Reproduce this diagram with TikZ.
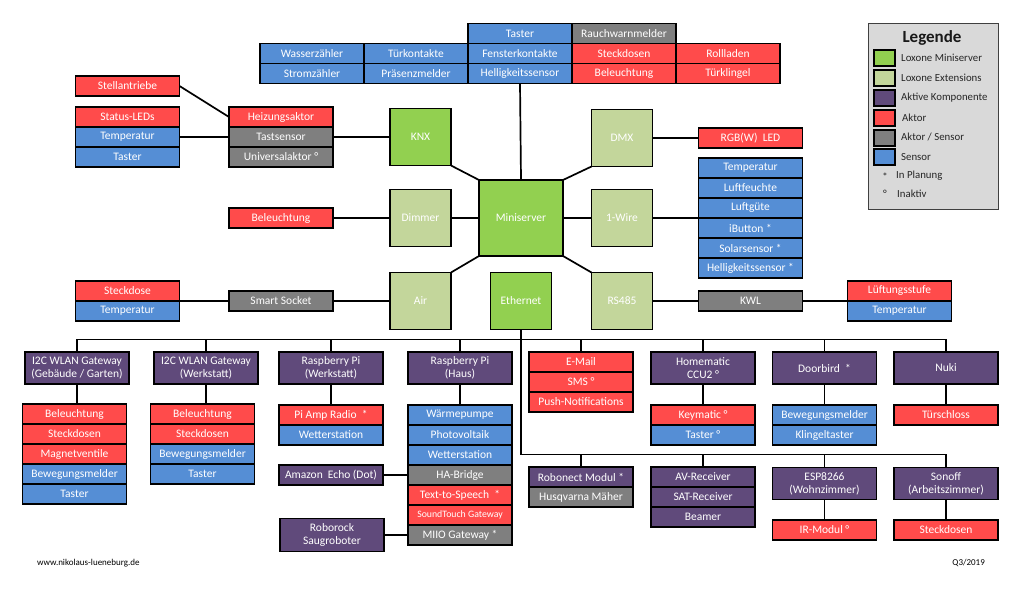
\documentclass[tikz,border=0pt]{standalone}
\usepackage{fontspec}
\setmainfont{Carlito}
\usetikzlibrary{positioning, calc}

\definecolor{minigreen}{HTML}{92D050}
\definecolor{extgreen}{HTML}{C3D69B}
\definecolor{aktivpurple}{HTML}{604A7B}
\definecolor{aktorred}{HTML}{FF4B4B}
\definecolor{aksengray}{HTML}{7F7F7F}
\definecolor{sensorblue}{HTML}{558ED5}
\definecolor{legendgray}{HTML}{D9D9D9}

\begin{document}
\begin{tikzpicture}[
  x=1pt, y=-1pt,
  box/.style    = {draw=black, line width=1.4pt, outer sep=0pt, inner sep=0pt,
                   minimum width=104pt, minimum height=20pt, text=white,
                   font=\fontsize{11.5}{13}\selectfont},
  sensor/.style = {box, fill=sensorblue},
  aktor/.style  = {box, fill=aktorred},
  aksen/.style  = {box, fill=aksengray},
  aktiv/.style  = {box, fill=aktivpurple, align=center, minimum height=32pt},
  ext/.style    = {box, fill=extgreen, minimum width=61pt, minimum height=57pt},
  mini/.style   = {box, fill=minigreen, minimum width=84pt, minimum height=76pt},
  link/.style   = {line width=1.7pt},
  swatch/.style = {draw=black, line width=1.7pt, minimum width=21pt, minimum height=16pt, inner sep=0pt},
  legtext/.style = {anchor=west, inner sep=0pt, text=black!85, font=\fontsize{10.8}{12}\selectfont},
]
  \useasboundingbox (0,0) rectangle (1024,593);
  \fill[white] (0,0) rectangle (1024,593);

%--- Miniserver und Extensions ---
  \node[mini] (mini)   at (521,218)   {Miniserver};
  \node[mini, minimum width=61pt, minimum height=57pt] (knx) at (420.5,137) {KNX};
  \node[ext]  (dmx)    at (622,138)   {DMX};
  \node[ext]  (dimmer) at (420.5,218) {Dimmer};
  \node[ext]  (wire)   at (622,218)   {1-Wire};
  \node[ext]  (air)    at (420.5,301) {Air};
  \node[mini, minimum width=61pt, minimum height=57pt] (eth) at (521,301) {Ethernet};
  \node[ext]  (rs)     at (622,301)   {RS485};

  \draw[link] (knx.south east) -- (mini.north west);
  \draw[link] (dmx.south west) -- (mini.north east);
  \draw[link] (air.north east) -- (mini.south west);
  \draw[link] (rs.north west)  -- (mini.south east);
  \draw[link] (dimmer) -- (mini);
  \draw[link] (wire)   -- (mini);

%--- Loxone Tree / Sensoren oben ---
  \node[sensor] (fenster) at (520,53.5) {Fensterkontakte};
  \node[sensor, above=0pt of fenster] (taster)  {Taster};
  \node[aksen,  right=0pt of taster]  (rauch)   {Rauchwarnmelder};
  \node[sensor, below=0pt of fenster] (hellig)  {Helligkeitssensor};
  \node[sensor, left=0pt of fenster]  (tuerk)   {Türkontakte};
  \node[sensor, left=0pt of tuerk]    (wasser)  {Wasserzähler};
  \node[sensor, below=0pt of tuerk]   (praes)   {Präsenzmelder};
  \node[sensor, below=0pt of wasser]  (strom)   {Stromzähler};
  \node[aktor,  right=0pt of fenster] (steck)   {Steckdosen};
  \node[aktor,  right=0pt of steck]   (roll)    {Rollladen};
  \node[aktor,  below=0pt of steck]   (bel)     {Beleuchtung};
  \node[aktor,  below=0pt of roll]    (klingel) {Türklingel};

  \draw[link] (hellig.south) -- (mini.north);

%--- KNX ---
  \node[aksen] (tast) at (281,137) {Tastsensor};
  \node[aktor, above=0pt of tast] (heiz)  {Heizungsaktor};
  \node[aksen, below=0pt of tast] (univ)  {Universalaktor °};
  \node[sensor] (knxtemp) at (127.5,137) {Temperatur};
  \node[aktor,  above=0pt of knxtemp] (status)    {Status-LEDs};
  \node[sensor, below=0pt of knxtemp] (knxtaster) {Taster};
  \node[aktor] (stell) at (127.5,86) {Stellantriebe};

  \draw[link] (stell.east) -- (heiz.west);
  \draw[link] (knxtemp) -- (tast);
  \draw[link] (tast) -- (knx);

%--- Dimmer ---
  \node[aktor] (dimbel) at (281,218) {Beleuchtung};
  \draw[link] (dimbel) -- (dimmer);

%--- Air ---
  \node[aksen] (socket) at (281,301) {Smart Socket};
  \node[aktor]  (sockdose) at (127.5,291) {Steckdose};
  \node[sensor, below=0pt of sockdose] (socktemp) {Temperatur};
  \draw[link] (sockdose.south east) -- (socket.west);
  \draw[link] (socket) -- (air);

%--- DMX / 1-Wire / RS485 ---
  \node[aktor] (rgbw) at (750.5,138) {RGB(W)\ \ LED};
  \draw[link] (dmx) -- (rgbw);

  \node[sensor] (luftguete) at (750.5,208) {Luftgüte};
  \node[sensor, above=0pt of luftguete] (luftfeu)   {Luftfeuchte};
  \node[sensor, above=0pt of luftfeu]   (wiretemp)  {Temperatur};
  \node[sensor, below=0pt of luftguete] (ibutton)   {iButton *};
  \node[sensor, below=0pt of ibutton]   (solar)     {Solarsensor *};
  \node[sensor, below=0pt of solar]     (wirehell)  {Helligkeitssensor *};
  \draw[link] (wire) -- (luftguete.south west);

  \node[aksen] (kwl) at (750.5,301) {KWL};
  \node[aktor] (lueft) at (899.5,291) {Lüftungsstufe};
  \node[sensor, below=0pt of lueft] (kwltemp) {Temperatur};
  \draw[link] (rs) -- (kwl);
  \draw[link] (kwl) -- (lueft.south west);

%--- Ethernet, obere Reihe ---
  \node[aktiv] (gwa)  at (77,368)    {I2C WLAN Gateway\\(Gebäude / Garten)};
  \node[aktiv] (gwb)  at (206,368)   {I2C WLAN Gateway\\(Werkstatt)};
  \node[aktiv] (rpiw) at (331,368)   {Raspberry Pi\\(Werkstatt)};
  \node[aktiv] (rpih) at (460,368)   {Raspberry Pi\\(Haus)};
  \node[aktor] (mail) at (581,362)   {E-Mail};
  \node[aktor, below=0pt of mail] (sms)  {SMS °};
  \node[aktor, below=0pt of sms]  (push) {Push-Notifications};
  \node[aktiv] (hm)   at (703,368)   {Homematic\\CCU2 °};
  \node[aktiv] (door) at (824.5,368) {Doorbird\ \ *};
  \node[aktiv] (nuki) at (946,368)   {Nuki};

  \coordinate (ebus)    at ($(eth.south)+(0,10)$);
  \coordinate (ebustwo) at ($(eth.south)+(0,125)$);
  \draw[link] (gwa.north) |- (ebus) -| (nuki.north);
  \draw[link] (eth.south) -- (ebustwo);
  \draw[link] (gwb.north)  -- (gwb.north |- ebus);
  \draw[link] (rpiw.north) -- (rpiw.north |- ebus);
  \draw[link] (rpih.north) -- (rpih.north |- ebus);
  \draw[link] (mail.north) -- (mail.north |- ebus);
  \draw[link] (hm.north)   -- (hm.north |- ebus);
  \draw[link] (door.north) -- (door.north |- ebus);

  % I2C WLAN Gateway (Gebaeude / Garten)
  \node[aktor] (gwabel) at (74.5,414) {Beleuchtung};
  \node[aktor,  below=0pt of gwabel]   (gwasteck) {Steckdosen};
  \node[aktor,  below=0pt of gwasteck] (gwaventil) {Magnetventile};
  \node[sensor, below=0pt of gwaventil] (gwabew) {Bewegungsmelder};
  \node[sensor, below=0pt of gwabew]   (gwatast) {Taster};
  \draw[link] (gwa.south) -- (gwa.south |- gwabel.north);

  % I2C WLAN Gateway (Werkstatt)
  \node[aktor] (gwbbel) at (202.5,414) {Beleuchtung};
  \node[aktor,  below=0pt of gwbbel]   (gwbsteck) {Steckdosen};
  \node[sensor, below=0pt of gwbsteck] (gwbbew)   {Bewegungsmelder};
  \node[sensor, below=0pt of gwbbew]   (gwbtast)  {Taster};
  \draw[link] (gwb.south) -- (gwb.south |- gwbbel.north);

  % Raspberry Pi (Werkstatt)
  \node[aktor] (amp) at (331,415) {Pi Amp Radio\ \ *};
  \node[sensor, below=0pt of amp] (rpiwwetter) {Wetterstation};
  \draw[link] (rpiw) -- (amp);

  % Raspberry Pi (Haus)
  \node[sensor] (waerme) at (460,415) {Wärmepumpe};
  \node[sensor, below=0pt of waerme] (pv)      {Photovoltaik};
  \node[sensor, below=0pt of pv]     (wetter)  {Wetterstation};
  \node[aksen,  below=0pt of wetter] (habridge) {HA-Bridge};
  \node[aktor,  below=0pt of habridge] (tts)   {Text-to-Speech\ \ *};
  \node[aktor,  below=0pt of tts, font=\fontsize{9.8}{11}\selectfont] (sound) {SoundTouch Gateway};
  \node[aksen,  below=0pt of sound]  (miio)    {MIIO Gateway *};
  \draw[link] (rpih) -- (waerme);

  \node[aktiv, minimum height=20pt] (echo) at (331,475) {Amazon\ \ Echo (Dot)};
  \node[aktiv, minimum height=33pt] (robo) at (332,535) {Roborock\\Saugroboter};
  \draw[link] (echo) -- (habridge);
  \draw[link] (robo) -- (miio);

  % Homematic, Doorbird, Nuki
  \node[aktor] (keym) at (703,415) {Keymatic °};
  \node[sensor, below=0pt of keym] (hmtast) {Taster °};
  \draw[link] (hm) -- (keym);
  \node[sensor] (doorbew) at (824.5,415) {Bewegungsmelder};
  \node[sensor, below=0pt of doorbew] (doorkling) {Klingeltaster};
  \draw[link] (door) -- (doorbew);
  \node[aktor] (schloss) at (946,415) {Türschloss};
  \draw[link] (nuki) -- (schloss);

%--- Ethernet, untere Reihe ---
  \node[aktiv, minimum height=20pt] (robonect) at (581,477) {Robonect Modul *};
  \node[aksen, below=0pt of robonect] (maeher) {Husqvarna Mäher};
  \node[aktiv, minimum height=20pt] (avr) at (703,477) {AV-Receiver};
  \node[aktiv, minimum height=20pt, below=0pt of avr] (sat)    {SAT-Receiver};
  \node[aktiv, minimum height=20pt, below=0pt of sat] (beamer) {Beamer};
  \node[aktiv] (esp)    at (824.5,483.5) {ESP8266\\(Wohnzimmer)};
  \node[aktiv] (sonoff) at (946,483.5)   {Sonoff\\(Arbeitszimmer)};
  \node[aktor] (irmod)  at (824.5,530)   {IR-Modul °};
  \node[aktor] (sonsteck) at (946,530)   {Steckdosen};

  \draw[link] (ebustwo) -| (sonoff.north);
  \draw[link] (robonect.north) -- (robonect.north |- ebustwo);
  \draw[link] (avr.north) -- (avr.north |- ebustwo);
  \draw[link] (esp.north) -- (esp.north |- ebustwo);
  \draw[link] (esp) -- (irmod);
  \draw[link] (sonoff) -- (sonsteck);

%--- Legende ---
  \node[draw=black!75, fill=legendgray, line width=0.9pt, inner sep=0pt,
        minimum width=130pt, minimum height=186pt] (legend) at (933,116) {};
  \node[text=black!90, font=\bfseries\fontsize{17}{19}\selectfont] (legtitle) at (932,38) {Legende};
  \node[swatch, fill=minigreen]   (lmini)  at (884.5,58)  {};
  \node[swatch, fill=extgreen]    (lext)   at (884.5,78)  {};
  \node[swatch, fill=aktivpurple] (laktiv) at (884.5,98)  {};
  \node[swatch, fill=aktorred]    (laktor) at (884.5,118) {};
  \node[swatch, fill=aksengray]   (laksen) at (884.5,138) {};
  \node[swatch, fill=sensorblue]  (lsens)  at (884.5,157) {};
  \node[legtext] (lminit)  at (901,58)  {Loxone Miniserver};
  \node[legtext] (lextt)   at (901,78)  {Loxone Extensions};
  \node[legtext] (laktivt) at (901,98)  {Aktive Komponente};
  \node[legtext] (laktort) at (902,118) {Aktor};
  \node[legtext] (laksent) at (901,137) {Aktor / Sensor};
  \node[legtext] (lsenst)  at (901,157) {Sensor};
  \node[text=black!85, font=\fontsize{10.8}{12}\selectfont] (lplan) at (885,177) {*};
  \node[legtext] (lplant)  at (896,176) {In Planung};
  \node[text=black!85, font=\fontsize{10.8}{12}\selectfont] (linakt) at (885,194) {°};
  \node[legtext] (linaktt) at (897,194) {Inaktiv};

%--- Fusszeile ---
  \node[anchor=west, inner sep=0pt, font=\fontsize{9}{11}\selectfont] (web) at (37,563) {www.nikolaus-lueneburg.de};
  \node[anchor=east, inner sep=0pt, font=\fontsize{9}{11}\selectfont] (stand) at (985,563) {Q3/2019};
\end{tikzpicture}
\end{document}
